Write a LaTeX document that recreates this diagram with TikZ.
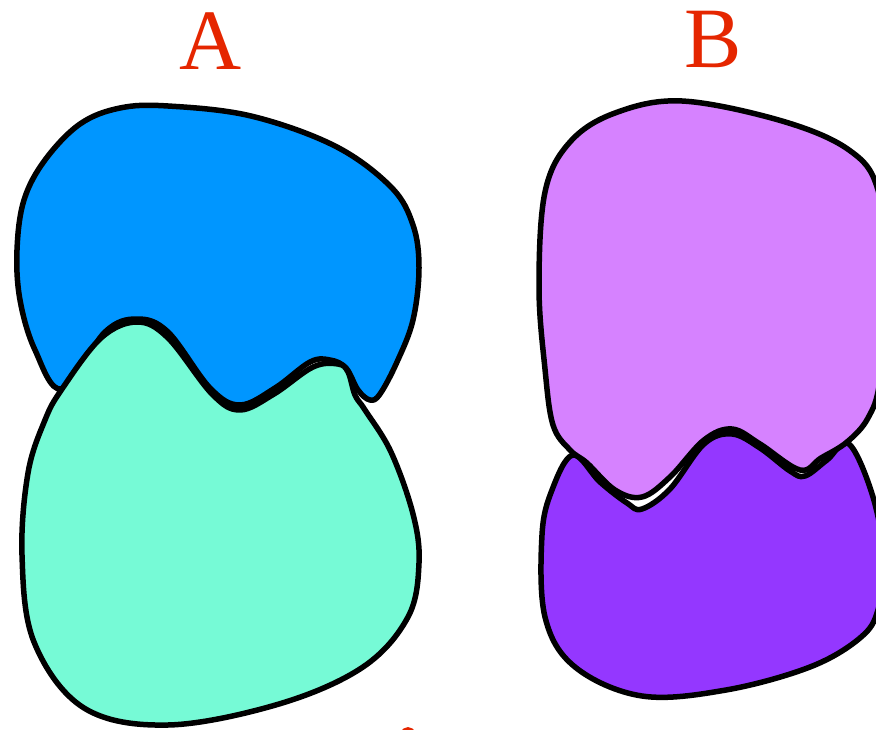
\documentclass[tikz,border=0pt]{standalone}
\usepackage{fontspec}
\setmainfont{Liberation Serif}
\definecolor{aqua}{HTML}{0096FF}
\definecolor{spindrift}{HTML}{76FAD6}
\definecolor{lavender}{HTML}{D682FF}
\definecolor{grape}{HTML}{9437FF}
\definecolor{cayenne}{HTML}{E52600}
\begin{document}
\begin{tikzpicture}[x=1pt,y=-1pt,line join = round, line cap = round, line width=5.5pt,
	lbl/.style={text=cayenne,font=\fontsize{86}{90}\selectfont,anchor=base,inner sep=0pt}]
			\useasboundingbox (0,0) rectangle (876,730);
			\clip (0,0) rectangle (876,730);
			%A: upper piece then lower piece on top
			\draw[fill=aqua] plot[smooth cycle,tension=0.6] coordinates {(168,106) (251,116) (335,146) (391,187) (413,225) (419,268) (413,320) (397,362) (380,394) (370,400) (358,390) (346,368) (330,360) (310,362) (275,388) (240,405) (210,388) (168,332) (137,319) (105,332) (62,389) (35,350) (20,300) (17,250) (24,200) (45,160) (80,124) (120,108)};
			\draw[fill=spindrift] plot[smooth cycle,tension=0.6] coordinates {(62,389) (101,338) (137,322) (168,338) (212,394) (240,410) (274,394) (313,367) (338,364) (348,372) (355,395) (365,410) (391,452) (413,514) (419,563) (408,617) (363,667) (279,704) (168,725) (84,708) (34,642) (22,555) (28,473) (45,420)};
			%B: lower piece first, upper piece on top
			\draw[fill=grape] plot[smooth cycle,tension=0.6] coordinates {(573,455) (600,482) (627,503) (642,509) (670,489) (704,444) (732,434) (760,448) (790,471) (805,476) (827,460) (849,444) (873,497) (884,560) (878,610) (860,638) (810,667) (726,690) (642,696) (575,667) (545,617) (542,535) (552,490)};
			\draw[fill=lavender] plot[smooth cycle,tension=0.6] coordinates {(682,101) (782,121) (849,150) (878,190) (888,280) (880,380) (868,418) (847,442) (821,458) (800,470) (760,444) (732,429) (704,440) (670,477) (642,497) (615,490) (587,463) (570,450) (553,425) (545,369) (539,287) (545,192) (570,142) (615,113)};
			\draw (211,70) node[lbl] (labA) {A} (713,68) node[lbl] (labB) {B};
			\fill[cayenne] (408,746) ellipse (11 and 19);
	\end{tikzpicture}
\end{document}
